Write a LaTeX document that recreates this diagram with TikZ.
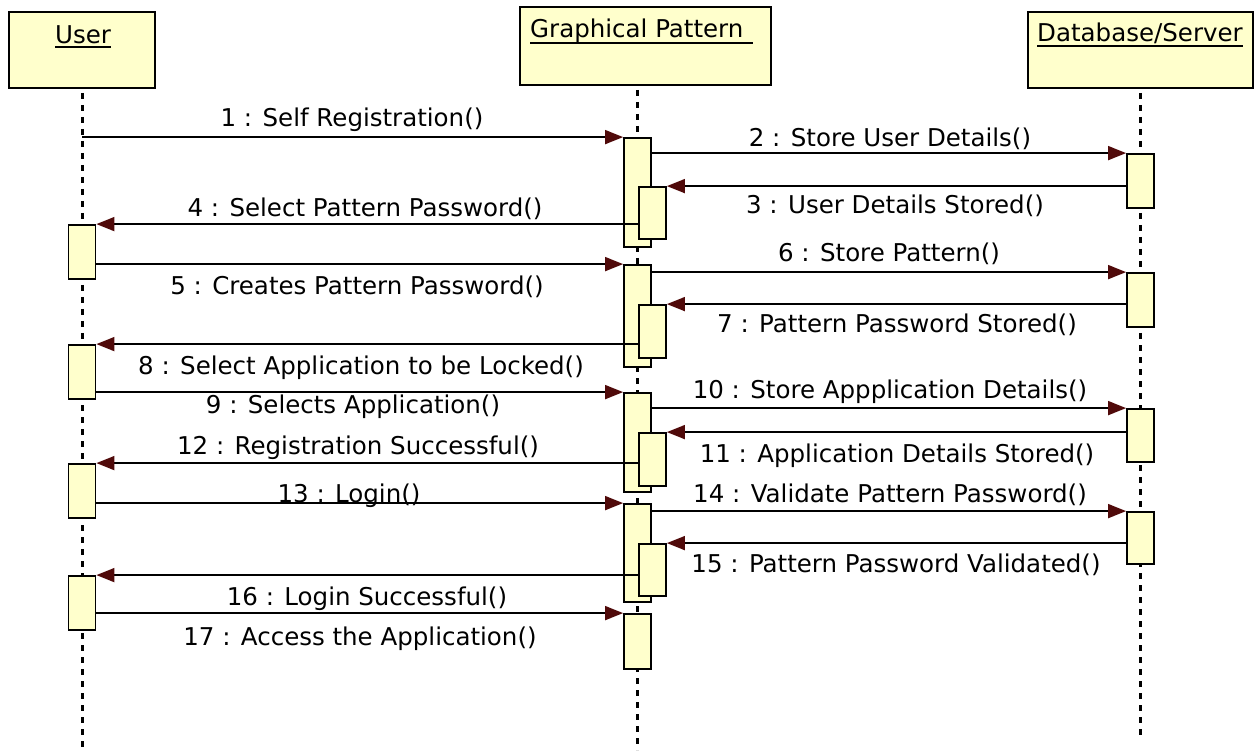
\documentclass[tikz,border=0pt]{standalone}
\usepackage{fontspec}
\setmainfont{DejaVu Sans}
\usetikzlibrary{arrows.meta}
\definecolor{boxfill}{RGB}{255,255,204}
\definecolor{tipred}{RGB}{80,10,10}
\begin{document}
\begin{tikzpicture}[x=1pt,y=-1pt,
  every node/.style={font=\fontsize{24.5}{29}\selectfont},
  head/.style={draw=black, line width=2pt, fill=boxfill, inner sep=0pt},
  act/.style={draw=black, line width=1.8pt, fill=boxfill, minimum width=27pt, inner sep=0pt},
  lifeline/.style={line width=3pt, dash pattern=on 6pt off 6pt},
  msg/.style={line width=1.6pt, -{Triangle[length=18pt,width=14pt,color=tipred]}},
  lbl/.style={anchor=base, inner sep=0pt},
  ttl/.style={anchor=base west, inner sep=0pt},
  uline/.style={line width=1.6pt}]
\useasboundingbox (0,0) rectangle (1254,754);
\fill[white] (0,0) rectangle (1254,754);

% heads
\node[head, minimum width=146pt, minimum height=76pt] (user) at (82,50) {};
\node[head, minimum width=251pt, minimum height=78pt] (gp) at (645.5,46) {};
\node[head, minimum width=225pt, minimum height=76pt] (db) at (1140.5,50) {};
\node[ttl] (userT) at (55,44) {User};
\node[ttl] (gpT) at (530,38) {Graphical Pattern\kern9pt};
\node[ttl] (dbT) at (1037,42) {Database/Server};
\draw[uline] ([yshift=-3pt]userT.base west) -- ([yshift=-3pt]userT.base east);
\draw[uline] ([yshift=-5pt]gpT.base west) -- ([yshift=-5pt]gpT.base east);
\draw[uline] ([yshift=-4pt]dbT.base west) -- ([yshift=-4pt]dbT.base east);

% lifelines
\coordinate (uEnd) at (82,750);
\coordinate (gEnd) at (637.5,750);
\coordinate (dEnd) at (1140.5,738);
\draw[lifeline] ([yshift=-4pt]user.south) -- (uEnd);
\draw[lifeline] ([yshift=-4pt]gp.south -| gEnd) -- (gEnd);
\draw[lifeline] ([yshift=-4pt]db.south) -- (dEnd);

% user activations
\node[act, minimum height=54pt] (u1) at (82,252) {};
\node[act, minimum height=54pt] (u2) at (82,372) {};
\node[act, minimum height=54pt] (u3) at (82,491) {};
\node[act, minimum height=54pt] (u4) at (82,603) {};
% graphical pattern activations
\node[act, minimum height=109pt] (g1) at (637.5,192.5) {};
\node[act, minimum height=102pt] (g2) at (637.5,316) {};
\node[act, minimum height=99pt] (g3) at (637.5,442.5) {};
\node[act, minimum height=98pt] (g4) at (637.5,553) {};
\node[act, minimum height=55pt] (g5) at (637.5,641.5) {};
\node[act, minimum height=52pt] (h1) at (652.5,213) {};
\node[act, minimum height=53pt] (h2) at (652.5,331.5) {};
\node[act, minimum height=53pt] (h3) at (652.5,459.5) {};
\node[act, minimum height=52pt] (h4) at (652.5,570) {};
% database activations
\node[act, minimum height=54pt] (d1) at (1140.5,181) {};
\node[act, minimum height=54pt] (d2) at (1140.5,300) {};
\node[act, minimum height=53pt] (d3) at (1140.5,435.5) {};
\node[act, minimum height=52pt] (d4) at (1140.5,538) {};

% messages
\draw[msg] (user.south |- g1.north west) -- (g1.north west);
\draw[msg] (g1.east |- d1.north west) -- (d1.north west);
\draw[msg] (d1.west |- h1.north east) -- (h1.north east);
\draw[msg] (h1.west |- u1.north east) -- (u1.north east);
\draw[msg] (u1.east |- g2.north west) -- (g2.north west);
\draw[msg] (g2.east |- d2.north west) -- (d2.north west);
\draw[msg] (d2.west |- h2.north east) -- (h2.north east);
\draw[msg] (h2.west |- u2.north east) -- (u2.north east);
\draw[msg] (u2.east |- g3.north west) -- (g3.north west);
\draw[msg] (g3.east |- d3.north west) -- (d3.north west);
\draw[msg] (d3.west |- h3.north east) -- (h3.north east);
\draw[msg] (h3.west |- u3.north east) -- (u3.north east);
\draw[msg] (u3.east |- g4.north west) -- (g4.north west);
\draw[msg] (g4.east |- d4.north west) -- (d4.north west);
\draw[msg] (d4.west |- h4.north east) -- (h4.north east);
\draw[msg] (h4.west |- u4.north east) -- (u4.north east);
\draw[msg] (u4.east |- g5.north west) -- (g5.north west);

% labels
\node[lbl] (l1) at (352,127) {1 : Self Registration()};
\node[lbl] (l2) at (890,147) {2 : Store User Details()};
\node[lbl] (l3) at (895,214) {3 : User Details Stored()};
\node[lbl] (l4) at (365,217) {4 : Select Pattern Password()};
\node[lbl] (l5) at (357,295) {5 : Creates Pattern Password()};
\node[lbl] (l6) at (889,262) {6 : Store Pattern()};
\node[lbl] (l7) at (897,333) {7 : Pattern Password Stored()};
\node[lbl] (l8) at (361,374) {8 : Select Application to be Locked()};
\node[lbl] (l9) at (353,413) {9 : Selects Application()};
\node[lbl] (l10) at (890,398) {10 : Store Appplication Details()};
\node[lbl] (l11) at (897,462) {11 : Application Details Stored()};
\node[lbl] (l12) at (358,454) {12 : Registration Successful()};
\node[lbl] (l13) at (349,502) {13 : Login()};
\node[lbl] (l14) at (890,502) {14 : Validate Pattern Password()};
\node[lbl] (l15) at (896,572) {15 : Pattern Password Validated()};
\node[lbl] (l16) at (367,605) {16 : Login Successful()};
\node[lbl] (l17) at (360,645) {17 : Access the Application()};
\end{tikzpicture}
\end{document}
